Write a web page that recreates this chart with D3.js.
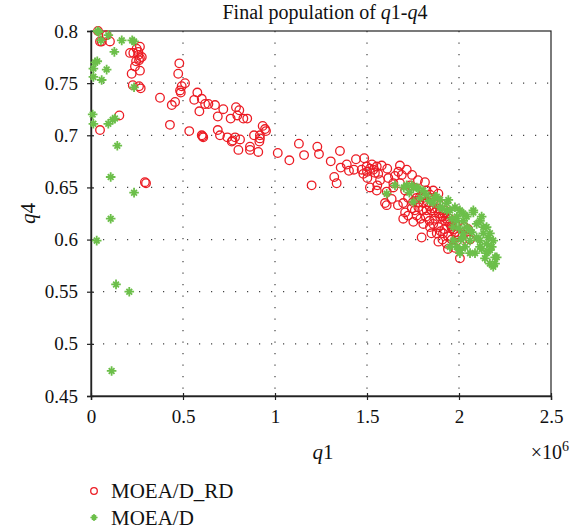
<!DOCTYPE html>
<html><head><meta charset="utf-8">
<script src="https://cdn.jsdelivr.net/npm/d3@7"></script>
<style>body{margin:0;background:#fff}svg text{font-family:"Liberation Serif","Times New Roman",serif;fill:#111}</style>
</head><body><svg id="c" width="581" height="530"></svg>
<script>
const xTicks=[0,0.5,1,1.5,2,2.5];
const xTickLabels=["0","0.5","1","1.5","2","2.5"];
const yTicks=[0.45,0.5,0.55,0.6,0.65,0.7,0.75,0.8];
const yTickLabels=["0.45","0.5","0.55","0.6","0.65","0.7","0.75","0.8"];
const seriesNames=["MOEA/D_RD","MOEA/D"];
// q1 in units of 1e6
const rdQ1=[0.038,0.058,0.103,0.085,0.049,0.212,0.230,0.266,0.257,0.257,0.266,0.261,0.245,0.239,0.221,0.266,0.227,0.261,0.270,0.248,0.276,0.154,0.049,0.293,0.299,
0.480,0.474,0.511,0.493,0.484,0.488,0.375,0.457,0.439,0.429,0.534,0.578,0.561,0.602,0.589,0.620,0.638,0.674,0.719,0.689,0.759,0.788,0.806,0.795,0.828,0.849,0.689,0.701,0.602,0.610,0.606,0.741,0.770,0.783,0.810,0.765,0.801,0.864,0.864,0.909,0.886,0.918,0.918,0.915,0.933,0.946,0.951,
1.015,1.078,1.130,1.158,1.230,1.239,1.199,1.303,1.353,1.322,1.335,1.357,1.390,1.402,1.429,1.440,1.485,1.471,1.498,1.516,1.534,1.553,1.500,1.527,1.543,1.480,1.502,1.561,1.610,1.556,1.553,1.516,1.607,1.580,1.616,1.643,1.679,1.670,1.689,1.679,1.643,1.607,1.634,1.598,1.697,1.707,1.743,1.724,1.697,1.770,1.752,1.797,1.806,1.842,1.879,1.888,1.933,1.960,1.988,2.005,1.824,1.842,1.860,1.888,1.852,1.897,1.924,1.951,1.924,1.806,1.788,1.824,1.779,1.860,1.888,1.734,1.761,1.723,1.815,1.777,1.745,1.707,1.668,1.913,1.978,2.005,1.940,1.652,1.571,1.716,2.050,2.060,
1.770,1.780,1.800,1.810,1.830,1.840,1.850,1.860,1.870,1.880,1.890,1.900,1.910,1.920,1.930,1.940,1.950,1.960,1.970,1.980,1.990,2.000,1.820,1.840,1.860,1.870,1.890,1.900,1.920,1.940,1.960,1.800,1.790,1.850,1.910,1.980,2.020,2.030,1.750,1.760];
const rdQ4=[0.800,0.790,0.790,0.796,0.790,0.779,0.779,0.785,0.780,0.777,0.774,0.772,0.771,0.766,0.759,0.762,0.748,0.747,0.745,0.783,0.775,0.719,0.705,0.655,0.654,
0.769,0.759,0.750,0.747,0.743,0.741,0.736,0.732,0.729,0.710,0.704,0.741,0.734,0.735,0.723,0.730,0.730,0.729,0.725,0.718,0.716,0.727,0.724,0.719,0.716,0.716,0.705,0.700,0.700,0.698,0.699,0.698,0.695,0.698,0.696,0.694,0.686,0.689,0.686,0.684,0.700,0.700,0.697,0.694,0.709,0.706,0.704,
0.683,0.676,0.692,0.681,0.689,0.682,0.652,0.675,0.685,0.660,0.654,0.669,0.672,0.666,0.667,0.677,0.678,0.667,0.670,0.668,0.667,0.670,0.665,0.672,0.664,0.663,0.659,0.663,0.668,0.652,0.647,0.650,0.633,0.671,0.659,0.654,0.671,0.665,0.662,0.654,0.650,0.646,0.639,0.635,0.635,0.626,0.630,0.623,0.620,0.623,0.617,0.602,0.615,0.612,0.606,0.598,0.596,0.611,0.599,0.582,0.647,0.643,0.638,0.635,0.628,0.622,0.618,0.615,0.628,0.635,0.641,0.628,0.631,0.647,0.644,0.652,0.645,0.640,0.655,0.657,0.662,0.647,0.633,0.606,0.607,0.595,0.591,0.661,0.657,0.667,0.610,0.600,
0.640,0.636,0.643,0.640,0.636,0.632,0.640,0.630,0.626,0.630,0.625,0.628,0.622,0.625,0.620,0.617,0.620,0.613,0.610,0.615,0.605,0.603,0.622,0.618,0.615,0.620,0.612,0.608,0.610,0.603,0.600,0.628,0.620,0.606,0.600,0.592,0.605,0.612,0.636,0.628];
const dQ1=[0.036,0.041,0.094,0.054,0.167,0.224,0.234,0.127,0.022,0.013,0.034,0.013,0.058,0.085,0.234,0.009,0.013,0.094,0.118,0.130,0.143,0.107,0.234,0.107,0.031,0.136,0.208,0.112,
1.607,1.652,1.716,1.743,1.752,1.770,1.779,1.806,1.824,1.870,1.879,1.897,1.933,1.942,1.752,1.860,1.897,1.933,1.951,1.978,2.005,2.023,1.988,1.988,2.023,2.042,2.078,2.078,2.114,2.123,2.150,2.132,2.132,2.159,2.168,2.186,2.178,2.168,2.196,2.205,2.196,2.186,2.150,2.123,2.141,2.168,2.114,2.150,2.096,2.060,2.060,2.033,2.005,2.005,1.988,1.951,2.023,2.023,1.969,2.042,2.096,2.069,2.114,2.087,1.969,2.060,1.700,1.730,1.790,1.840,1.910,1.960,2.000,2.010];
const dQ4=[0.800,0.799,0.796,0.791,0.791,0.791,0.790,0.780,0.770,0.764,0.771,0.756,0.753,0.763,0.746,0.720,0.711,0.711,0.715,0.716,0.690,0.660,0.645,0.620,0.599,0.557,0.550,0.474,
0.644,0.652,0.652,0.652,0.650,0.650,0.649,0.647,0.643,0.641,0.641,0.638,0.635,0.638,0.636,0.635,0.631,0.628,0.628,0.631,0.628,0.625,0.622,0.618,0.618,0.622,0.628,0.626,0.618,0.622,0.612,0.612,0.606,0.602,0.606,0.599,0.593,0.590,0.583,0.583,0.577,0.574,0.587,0.591,0.582,0.577,0.593,0.596,0.602,0.599,0.609,0.593,0.587,0.590,0.593,0.593,0.606,0.602,0.612,0.612,0.615,0.607,0.599,0.587,0.599,0.587,0.650,0.645,0.640,0.637,0.630,0.620,0.611,0.600];

const RED="#ec1c24", GREEN="#6cbf4a";
const L=91,R=551,T=31,B=396;
const svg=d3.select("#c");
const x=d3.scaleLinear().domain([0,2.5]).range([L,R]);
const y=d3.scaleLinear().domain([0.45,0.8]).range([B,T]);

// grid
const g=svg.append("g");
g.selectAll("line.gx").data(xTicks.slice(1,-1)).join("line")
 .attr("x1",d=>x(d)).attr("x2",d=>x(d)).attr("y1",T).attr("y2",B)
 .attr("stroke","#444").attr("stroke-width",1.2).attr("stroke-dasharray","1.2,10.3");
g.selectAll("line.gy").data(yTicks.slice(1,-1)).join("line")
 .attr("y1",d=>y(d)).attr("y2",d=>y(d)).attr("x1",L).attr("x2",R)
 .attr("stroke","#444").attr("stroke-width",1.2).attr("stroke-dasharray","1.2,10.8");

// box
svg.append("rect").attr("x",L).attr("y",T).attr("width",R-L).attr("height",B-T)
 .attr("fill","none").attr("stroke","#222").attr("stroke-width",1.2);

// axes
const xa=svg.append("g").attr("transform",`translate(0,${B})`)
 .call(d3.axisBottom(x).tickValues(xTicks).tickSize(4).tickPadding(10).tickFormat((d,i)=>xTickLabels[i]));
const ya=svg.append("g").attr("transform",`translate(${L},0)`)
 .call(d3.axisLeft(y).tickValues(yTicks).tickSize(4).tickPadding(9).tickFormat((d,i)=>yTickLabels[i]));
[xa,ya].forEach(a=>{a.select(".domain").attr("stroke","#222").attr("stroke-width",1.4);
 a.selectAll(".tick line").attr("stroke","#222").attr("stroke-width",1.2);
 a.selectAll("text").attr("font-size",19).attr("fill","#111");});
// inner tick halves
xa.selectAll(".tick").append("line").attr("y1",0).attr("y2",-3).attr("stroke","#222").attr("stroke-width",1.2);
ya.selectAll(".tick").append("line").attr("x1",0).attr("x2",3).attr("stroke","#222").attr("stroke-width",1.2);

// points
const rd=rdQ1.map((v,i)=>({q1:v,q4:rdQ4[i]}));
const dd=dQ1.map((v,i)=>({q1:v,q4:dQ4[i]}));
function starPath(s){const d=s*0.6;return `M${-s},0H${s}M0,${-s}V${s}M${-d},${-d}L${d},${d}M${-d},${d}L${d},${-d}`;}
svg.append("g").selectAll("circle").data(rd).join("circle")
 .attr("cx",d=>x(d.q1)).attr("cy",d=>y(d.q4)).attr("r",4.3)
 .attr("fill","none").attr("stroke",RED).attr("stroke-width",1.3);
svg.append("g").selectAll("path").data(dd).join("path")
 .attr("transform",d=>`translate(${x(d.q1)},${y(d.q4)})`).attr("d",starPath(4.8))
 .attr("fill","none").attr("stroke",GREEN).attr("stroke-width",1.8);

// title & labels
const t=svg.append("text").attr("x",(L+R)/2+4).attr("y",19).attr("text-anchor","middle").attr("font-size",20);
t.append("tspan").text("Final population of ");
t.append("tspan").attr("font-style","italic").text("q");
t.append("tspan").text("1-");
t.append("tspan").attr("font-style","italic").text("q");
t.append("tspan").text("4");

const yl=svg.append("text").attr("transform",`translate(35,${(T+B)/2}) rotate(-90)`).attr("text-anchor","middle").attr("font-size",21);
yl.append("tspan").attr("font-style","italic").text("q");yl.append("tspan").text("4");
const xl=svg.append("text").attr("x",(L+R)/2+2).attr("y",459).attr("text-anchor","middle").attr("font-size",21);
xl.append("tspan").attr("font-style","italic").text("q");xl.append("tspan").text("1");
const ex=svg.append("text").attr("x",569).attr("y",459).attr("text-anchor","end").attr("font-size",20);
ex.append("tspan").text("×10");ex.append("tspan").attr("font-size",14).attr("dy",-8).text("6");

// legend
const lg=svg.append("g");
lg.append("circle").attr("cx",94).attr("cy",491).attr("r",3.3).attr("fill","none").attr("stroke",RED).attr("stroke-width",1.3);
lg.append("path").attr("transform","translate(94,517.5)").attr("d",starPath(3.6)).attr("fill","none").attr("stroke",GREEN).attr("stroke-width",1.6);
lg.selectAll("text").data(seriesNames).join("text").attr("x",111).attr("y",(d,i)=>498+i*26.5).attr("font-size",21).text(d=>d);
</script></body></html>
